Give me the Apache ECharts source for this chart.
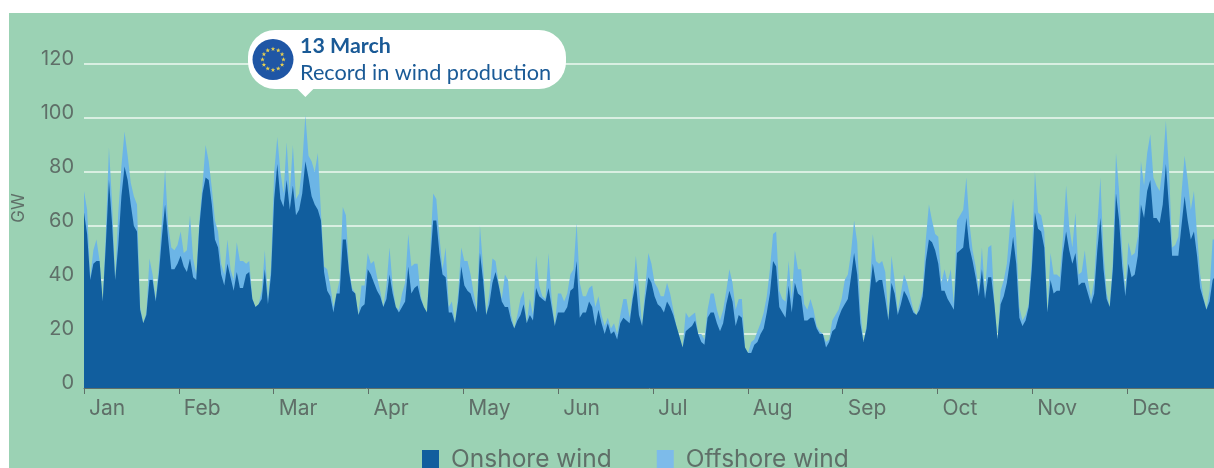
<!DOCTYPE html>
<html>
<head>
<meta charset="utf-8">
<script src="https://cdn.jsdelivr.net/npm/echarts@6/dist/echarts.min.js"></script>
<style>
  html, body { margin: 0; padding: 0; background: #fff; overflow: hidden; }
  #panel { position: absolute; left: 9px; top: 13px; right: 0; bottom: 0; background: #9bd2b4; }
  #chart { position: absolute; left: 0; top: 0; width: 1214px; height: 468px; }
</style>
</head>
<body>
<div id="panel"></div>
<div id="chart"></div>
<script>
// Daily wind generation across the year, in GW.
const months = ['Jan','Feb','Mar','Apr','May','Jun','Jul','Aug','Sep','Oct','Nov','Dec'];
const yTicks = [0, 20, 40, 60, 80, 100, 120];

const onshore = [
  65,57,40,46,47,47,32,53,77,61,40,53,71,82,77,68,60,58,29,24,27,40,40,32,42,56,68,55,44,44,
  46,49,45,43,48,41,40,60,72,78,77,68,55,52,42,38,46,41,36,43,37,37,42,43,33,30,31,33,44,31,
  42,70,83,70,67,77,66,75,64,66,72,84,78,71,68,66,62,43,36,34,28,35,35,55,55,43,36,35,27,30,
  31,44,42,39,36,34,30,33,42,35,30,28,30,32,45,35,37,38,33,30,28,46,62,62,50,42,41,28,28,24,
  32,45,38,36,35,31,28,50,40,27,31,39,43,38,32,30,30,25,22,25,27,31,24,27,25,37,34,33,32,37,
  30,23,28,28,28,30,36,37,47,26,28,28,32,30,23,29,24,20,24,20,21,18,24,26,25,24,33,39,27,23,
  33,41,39,34,31,30,28,32,30,27,23,19,15,21,22,23,25,20,17,16,26,28,28,24,21,24,31,36,32,23,
  27,26,15,13,13,16,17,20,22,28,35,47,45,30,28,26,38,28,39,35,34,25,25,26,26,22,20,20,15,17,
  21,22,26,29,31,33,41,50,42,24,17,22,35,46,39,40,40,33,25,39,35,27,31,36,34,31,28,27,29,34,
  47,55,54,51,46,36,36,33,31,29,50,51,52,63,52,47,41,34,44,33,41,41,31,18,31,34,39,47,56,46,
  26,23,25,30,44,65,59,58,52,28,40,35,36,36,50,58,51,46,50,38,39,39,35,31,35,51,63,44,33,30,
  44,72,62,45,34,46,41,42,49,68,63,73,77,63,63,61,68,83,67,49,49,49,60,71,62,55,58,49,37,33,
  29,32,40,42,40
];

const offshore = [
  8,9,1,5,8,0,0,4,12,8,0,12,11,13,9,8,11,10,1,0,1,8,2,1,3,6,13,5,8,7,
  7,9,5,8,16,7,2,2,3,12,7,6,7,6,4,4,9,3,4,11,10,10,4,4,0,0,0,3,7,2,
  3,10,10,10,5,14,6,15,6,6,11,17,8,13,12,21,3,2,8,4,2,0,5,12,9,1,1,0,0,8,
  7,6,4,8,5,2,0,5,10,3,0,1,5,7,12,10,9,8,1,0,0,4,10,8,6,2,11,2,4,0,
  3,7,9,11,7,4,1,10,5,0,4,9,4,1,1,12,10,2,0,2,6,5,0,6,2,12,4,1,1,13,
  3,0,7,7,4,5,6,7,14,13,6,6,5,8,7,5,3,3,2,2,3,2,3,7,8,2,2,10,10,0,
  4,9,7,5,6,4,6,7,5,2,0,0,0,7,4,4,3,0,3,2,3,7,7,5,4,5,5,8,7,6,
  6,7,0,0,4,2,4,4,6,6,9,10,13,6,5,6,9,5,12,9,10,6,4,7,3,1,1,0,2,1,
  4,5,3,4,9,9,9,12,12,5,0,1,2,11,8,6,7,10,0,10,5,1,4,6,5,3,1,0,2,2,
  8,13,8,6,10,3,8,6,13,2,12,13,14,15,9,4,4,2,8,2,11,12,0,0,5,6,7,13,14,10,
  4,2,2,1,4,15,6,6,6,0,10,7,6,5,6,17,9,6,15,4,4,12,5,2,5,9,15,6,2,0,
  3,15,11,6,2,8,8,8,7,16,12,14,17,15,12,12,14,16,14,3,4,7,12,15,15,11,15,8,5,1,
  0,4,15,13,10
];

const textGrey = '#5f6f68';
const calloutBlue = '#1a5a96';
const daysInYear = 365;
const monthSpan = daysInYear / 12;

const chart = echarts.init(document.getElementById('chart'), null, { renderer: 'canvas' });

const onshorePairs = onshore.map((v, i) => [i, v]);
// The offshore band sits on top of onshore, so its area reaches the daily total.
const totalPairs = offshore.map((v, i) => [i, v + onshore[i]]);

chart.setOption({
  animation: false,
  backgroundColor: 'transparent',
  textStyle: { fontFamily: 'Inter' },
  grid: { left: 84, top: 64, bottom: 80, right: -8, outerBoundsMode: 'none' },
  legend: {
    left: 422, top: 447,
    icon: 'rect', itemWidth: 17, itemHeight: 19, itemGap: 45, padding: 0,
    selectedMode: false,
    textStyle: { color: textGrey, fontSize: 24.5, fontFamily: 'Inter', padding: [0, 0, 0, 7] },
    data: [
      { name: 'Onshore wind', itemStyle: { color: '#115e9e' } },
      { name: 'Offshore wind', itemStyle: { color: '#7dbbea' } }
    ]
  },
  xAxis: {
    type: 'value', min: 0, max: daysInYear, interval: monthSpan,
    splitLine: { show: false },
    axisLine: { show: true, onZero: false, lineStyle: { color: textGrey, width: 1 } },
    axisTick: { show: true, length: 6, lineStyle: { color: textGrey, width: 1 } },
    axisLabel: {
      show: true, color: textGrey, fontSize: 21, margin: 10, align: 'left',
      padding: [0, 0, 0, 5], hideOverlap: false, showMinLabel: true, showMaxLabel: false,
      formatter: v => months[Math.round(v / monthSpan)] || ''
    }
  },
  yAxis: {
    type: 'value', min: 0, max: yTicks[yTicks.length - 1], interval: 20,
    name: 'GW', nameLocation: 'middle', nameGap: 57, nameRotate: 90,
    nameTextStyle: { color: textGrey, fontSize: 17, padding: [0, 0, 0, 36] },
    axisLine: { show: false }, axisTick: { show: false },
    splitLine: { show: true, lineStyle: { color: '#eef8f2', width: 1.5 } },
    axisLabel: { color: textGrey, fontSize: 20, margin: 10, verticalAlign: 'bottom', lineHeight: 10 }
  },
  series: [
    {
      name: 'Offshore wind', type: 'line', data: totalPairs,
      showSymbol: false, lineStyle: { width: 0 }, areaStyle: { color: '#6cb5e6', opacity: 1 },
      itemStyle: { color: '#6cb5e6' }, z: 2
    },
    {
      name: 'Onshore wind', type: 'line', data: onshorePairs,
      showSymbol: false, lineStyle: { width: 0 }, areaStyle: { color: '#115e9e', opacity: 1 },
      itemStyle: { color: '#115e9e' }, z: 3
    }
  ]
});

// Callout for the yearly peak; the pointer sits above the peak day's column.
const peakDay = 71;
const tipX = chart.convertToPixel({ gridIndex: 0 }, [peakDay, 0])[0];

const stars = [];
for (let k = 0; k < 12; k++) {
  const a = k * Math.PI / 6;
  const cx = 273 + 10.5 * Math.sin(a), cy = 59.5 - 10.5 * Math.cos(a);
  const pts = [];
  for (let j = 0; j < 10; j++) {
    const r = j % 2 ? 1 : 2.4;
    const b = j * Math.PI / 5;
    pts.push([cx + r * Math.sin(b), cy - r * Math.cos(b)]);
  }
  stars.push({ type: 'polygon', z: 13, shape: { points: pts }, style: { fill: '#e6cf52' } });
}

chart.setOption({
  graphic: [
    { type: 'rect', z: 10, shape: { x: 248, y: 30, width: 318, height: 59, r: 27 }, style: { fill: '#fff' } },
    { type: 'polygon', z: 10, shape: { points: [[tipX - 9, 88], [tipX + 9, 88], [tipX, 97]] }, style: { fill: '#fff' } },
    { type: 'circle', z: 12, shape: { cx: 273, cy: 59.5, r: 20.5 }, style: { fill: '#1f56a5' } },
    ...stars,
    { type: 'text', z: 12, x: 300, y: 46, style: { text: '13 March', fill: calloutBlue, font: 'bold 21.4px Lato', textVerticalAlign: 'middle' } },
    { type: 'text', z: 12, x: 300, y: 73, style: { text: 'Record in wind production', fill: calloutBlue, font: '21.7px Lato', textVerticalAlign: 'middle' } }
  ]
});
</script>
</body>
</html>
